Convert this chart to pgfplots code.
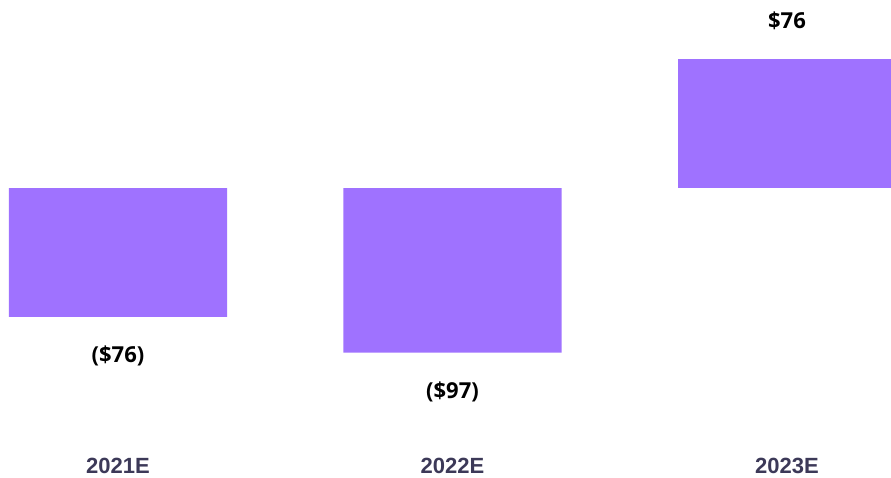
\documentclass[border=0pt]{standalone}
\usepackage{fontspec}
\setmainfont{Liberation Sans}
\newfontfamily\valfont{Open Sans}
\usepackage{pgfplots}
\pgfplotsset{compat=1.18}
\definecolor{barcol}{HTML}{9F72FF}
\definecolor{catcol}{HTML}{3C3958}

\begin{document}
\begin{tikzpicture}
\begin{axis}[
    scale only axis,
    width=891pt, height=477pt,
    xmin=-0.3528, xmax=2.311,
    ymin=-170.5, ymax=110.9,
    axis line style={draw=none},
    ytick=\empty,
    xtick={0,1,2},
    xticklabels={2021E,2022E,2023E},
    major tick length=0pt,
    xticklabel style={anchor=base, inner sep=0pt, yshift=4pt,
        font=\fontsize{22}{26}\selectfont\bfseries, text=catcol},
    ybar,
    bar width=0.652,
    bar shift=0pt,
    point meta=explicit symbolic,
    nodes near coords,
]
    % negative years
    \addplot[fill=barcol, draw=none,
        nodes near coords style={anchor=center, yshift=-39pt,
            font=\valfont\fontsize{22}{26}\selectfont\bfseries, text=black}]
    coordinates {
        (0,-76) [(\$76)]
        (1,-97) [(\$97)]
    };
    % positive year
    \addplot[fill=barcol, draw=none,
        nodes near coords style={anchor=center, yshift=38pt,
            font=\valfont\fontsize{22}{26}\selectfont\bfseries, text=black}]
    coordinates {
        (2,76) [\$76]
    };
\end{axis}
\end{tikzpicture}
\end{document}
